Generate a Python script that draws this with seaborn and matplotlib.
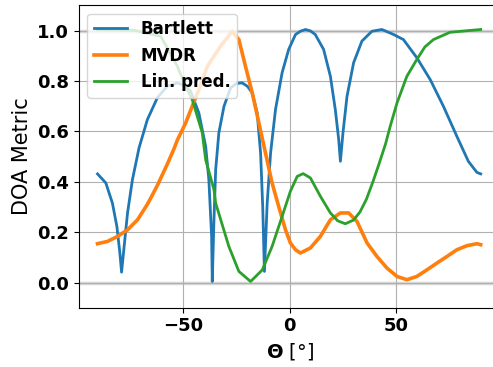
import numpy as np
import pandas as pd
import matplotlib
matplotlib.use("Agg")
import matplotlib.pyplot as plt
import seaborn as sns

# Bartlett
bart_x = [-90.3, -86.4, -83.3, -81.2, -79.8, -79.0, -77.8, -76.2, -73.9, -70.8, -66.9, -62.2, -57.5, -52.8,
          -49.5, -46.6, -42.7, -39.5, -38.0, -36.7, -36.4, -35.6, -34.8, -33.3, -30.9, -27.8, -25.0, -22.3,
          -19.8, -17.6, -15.3, -13.7, -12.7, -11.9, -10.6, -9.0, -6.7, -3.6, -0.5, 2.7, 5.0, 7.4, 9.8,
          12.0, 15.9, 19.1, 21.4, 23.0, 23.8, 25.0, 26.9, 30.0, 33.9, 38.6, 43.3, 48.8, 53.4, 59.7, 66.0,
          72.2, 78.5, 83.9, 87.9, 89.7]
bart_y = [0.431, 0.395, 0.315, 0.222, 0.117, 0.041, 0.143, 0.276, 0.408, 0.534, 0.646, 0.733, 0.779, 0.792,
          0.782, 0.759, 0.673, 0.540, 0.408, 0.183, 0.004, 0.249, 0.448, 0.594, 0.699, 0.772, 0.790, 0.792,
          0.778, 0.752, 0.673, 0.514, 0.302, 0.044, 0.315, 0.514, 0.686, 0.832, 0.925, 0.984, 0.997, 1.004,
          0.998, 0.984, 0.925, 0.818, 0.686, 0.567, 0.481, 0.594, 0.739, 0.872, 0.958, 0.997, 1.004, 0.984,
          0.964, 0.892, 0.805, 0.699, 0.580, 0.481, 0.437, 0.431]

# MVDR
mvdr_x = [-90.3, -85.6, -80.9, -76.2, -71.5, -66.9, -65.3, -62.2, -57.5, -54.4, -52.8, -48.9, -45.8, -42.7,
          -38.7, -32.5, -27.0, -23.9, -20.8, -17.6, -14.5, -11.4, -8.3, -5.2, -2.0, 0.3, 2.7, 5.0, 9.7,
          14.4, 19.1, 23.8, 27.7, 31.6, 36.3, 41.0, 45.7, 50.4, 55.0, 59.7, 64.4, 69.1, 73.8, 78.5, 83.2,
          87.9, 89.7]
mvdr_y = [0.154, 0.163, 0.183, 0.209, 0.249, 0.310, 0.335, 0.385, 0.470, 0.530, 0.565, 0.633, 0.700, 0.765,
          0.858, 0.938, 0.997, 0.964, 0.858, 0.752, 0.633, 0.514, 0.395, 0.302, 0.209, 0.157, 0.130, 0.117,
          0.137, 0.183, 0.249, 0.276, 0.276, 0.242, 0.157, 0.103, 0.057, 0.024, 0.011, 0.024, 0.050, 0.077,
          0.103, 0.130, 0.146, 0.154, 0.150]

# Lin. pred.
lp_x = [-90.3, -73.1, -60.6, -52.8, -48.9, -45.8, -41.1, -39.5, -35.6, -34.8, -28.6, -23.9, -18.4, -12.9,
        -8.3, -3.6, 0.3, 3.5, 6.3, 9.7, 14.4, 19.1, 22.5, 26.1, 30.0, 33.0, 36.0, 39.0, 42.0, 45.0, 47.2,
        50.4, 55.0, 59.7, 63.5, 67.5, 75.3, 89.7]
lp_y = [1.004, 1.001, 0.977, 0.858, 0.779, 0.726, 0.594, 0.487, 0.368, 0.315, 0.143, 0.044, 0.004, 0.050,
        0.143, 0.262, 0.362, 0.421, 0.432, 0.415, 0.342, 0.276, 0.245, 0.233, 0.248, 0.280, 0.330, 0.398,
        0.472, 0.550, 0.620, 0.713, 0.818, 0.885, 0.935, 0.964, 0.993, 1.004]

series_names = ["Bartlett", "MVDR", "Lin. pred."]
x_ticks = [-50, 0, 50]
y_ticks = [0.0, 0.2, 0.4, 0.6, 0.8, 1.0]

fig = plt.figure(figsize=(4.93, 3.67), dpi=100)
ax = fig.add_axes([79 / 493, 59.3 / 367, 421.5 / 493, 302.4 / 367])

ax.grid(True, color="#b0b0b0", linewidth=0.8, zorder=0)
ax.axhline(0, color="#d8d8d8", linewidth=2.5, zorder=1)
ax.axhline(1, color="#d8d8d8", linewidth=2.5, zorder=1)

colors = ["#1f77b4", "#ff7f0e", "#2ca02c"]
sns.lineplot(x=bart_x, y=bart_y, ax=ax, color=colors[0], linewidth=2, label=series_names[0], sort=False)
sns.lineplot(x=mvdr_x, y=mvdr_y, ax=ax, color=colors[1], linewidth=2.6, label=series_names[1], sort=False)
sns.lineplot(x=lp_x, y=lp_y, ax=ax, color=colors[2], linewidth=2, label=series_names[2], sort=False)

ax.set_xlim(-99, 99)
ax.set_ylim(-0.1, 1.1)
ax.set_xticks(x_ticks)
ax.set_yticks(y_ticks)
ax.set_xticklabels([f"{t}".replace("-", "\u2212") for t in x_ticks], fontsize=13, fontweight="bold")
ax.set_yticklabels([f"{t:.1f}" for t in y_ticks], fontsize=13, fontweight="bold")
ax.set_xlabel(r"$\mathbf{\Theta}$ [°]", fontsize=14)
ax.set_ylabel("DOA Metric", fontsize=15)

leg = ax.legend(loc="upper left", prop={"weight": "bold", "size": 12}, framealpha=0.8)

fig.savefig("out.png", dpi=100)
